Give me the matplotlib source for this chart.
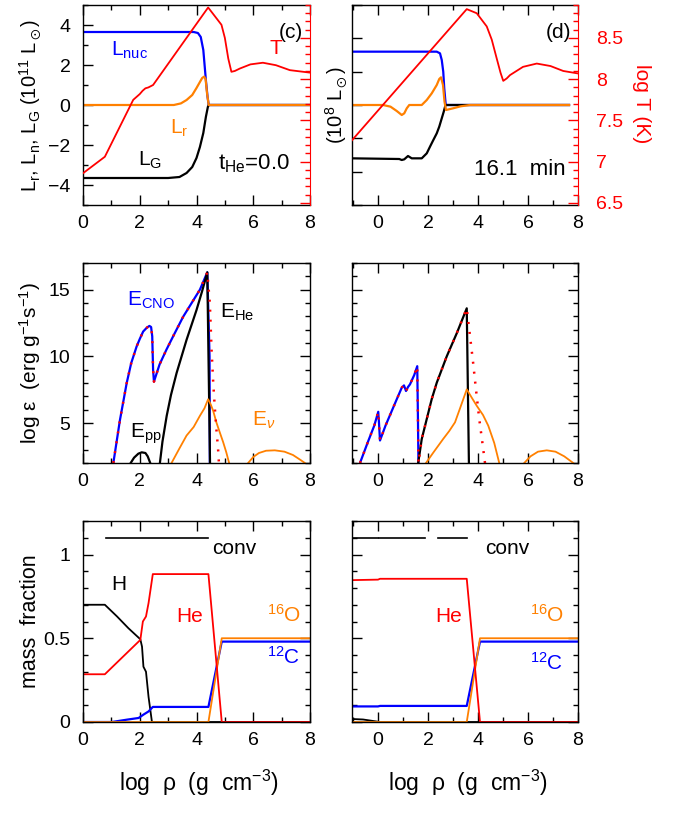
import matplotlib
matplotlib.use('Agg')
import matplotlib.pyplot as plt
from matplotlib.ticker import MultipleLocator, NullFormatter, FuncFormatter

plt.rcParams['font.family'] = ['Liberation Sans', 'DejaVu Sans']
plt.rcParams['mathtext.fontset'] = 'custom'
plt.rcParams['mathtext.rm'] = 'Liberation Sans'
plt.rcParams['mathtext.it'] = 'Liberation Sans:italic'
plt.rcParams['mathtext.bf'] = 'Liberation Sans:bold'
plt.rcParams['mathtext.fallback'] = 'stixsans'

BLUE = '#0000ff'; RED = '#ff0000'; ORANGE = '#ff8000'; BLACK = 'black'

# ---------------- data: panel (c) luminosities (10^11 Lsun) ----------------
c_nuc_x = [0, 3.9, 4.05, 4.15, 4.24, 4.33, 4.39, 4.43, 8]
c_nuc_y = [3.65, 3.65, 3.6, 3.4, 2.75, 1.25, 0.4, 0, 0]
c_G_x = [0, 3.0, 3.4, 3.65, 3.85, 4.0, 4.12, 4.24, 4.33, 4.4, 4.43, 8]
c_G_y = [-3.65, -3.65, -3.6, -3.4, -3.1, -2.65, -2.1, -1.4, -0.6, -0.1, 0, 0]
c_r_x = [0, 3.2, 3.45, 3.65, 3.85, 4.0, 4.12, 4.2, 4.27, 4.32, 4.37, 4.43, 8]
c_r_y = [0, 0, 0.08, 0.25, 0.5, 0.85, 1.15, 1.35, 1.42, 1.3, 0.6, 0, 0]
c_T_x = [0, 0.77, 1.77, 2.0, 2.1, 2.2, 2.3, 2.47, 4.41, 4.88, 5.0, 5.12, 5.23,
         5.35, 5.53, 5.9, 6.34, 6.8, 7.29, 8]
c_T_y = [6.86, 7.06, 7.75, 7.82, 7.86, 7.89, 7.9, 7.93, 8.87, 8.66, 8.5, 8.25, 8.09,
         8.1, 8.13, 8.18, 8.2, 8.17, 8.11, 8.08]

# ---------------- panel (d) luminosities (10^8 Lsun) ----------------
d_nuc_x = [-1.04, 2.35, 2.48, 2.55, 2.61, 2.65, 2.71, 7.64]
d_nuc_y = [1.6, 1.6, 1.55, 1.35, 1.0, 0.5, 0, 0]
d_G_x = [-1.04, 0.85, 0.95, 1.05, 1.2, 1.35, 1.75, 1.95, 2.08, 2.2, 2.35, 2.45,
         2.55, 2.63, 2.7, 7.64]
d_G_y = [-1.6, -1.62, -1.65, -1.63, -1.53, -1.6, -1.6, -1.45, -1.25, -1.07, -0.85,
         -0.65, -0.4, -0.2, 0, 0]
d_r_x = [-1.04, 0.2, 0.5, 0.75, 0.95, 1.05, 1.15, 1.25, 1.75, 1.95, 2.15, 2.35,
         2.45, 2.52, 2.6, 2.66, 2.72, 3.0, 3.3, 3.68, 7.64]
d_r_y = [0, 0, -0.05, -0.18, -0.3, -0.25, -0.1, 0, 0, 0.15, 0.35, 0.6,
         0.78, 0.83, 0.6, 0.1, -0.15, -0.1, -0.04, 0, 0]
d_T_x = [-1.04, 3.55, 3.95, 4.35, 4.55, 4.75, 4.9, 5.01, 5.15, 5.28, 5.8, 6.35,
         6.9, 7.41, 8]
d_T_y = [7.26, 8.85, 8.8, 8.64, 8.48, 8.25, 8.08, 7.98, 8.01, 8.05, 8.15, 8.19,
         8.16, 8.1, 8.07]

# ---------------- energy generation, left ----------------
e1_cno_x = [1.07, 1.3, 1.54, 1.7, 1.89, 2.0, 2.12, 2.25, 2.34, 2.4, 2.44, 2.47,
            2.5, 2.7, 2.94, 3.2, 3.53, 3.8, 4.12, 4.38, 4.46, 4.47]
e1_cno_y = [2, 5.2, 8.0, 9.5, 10.74, 11.3, 11.86, 12.15, 12.28, 12.2, 11.5, 9.0,
            8.1, 9.4, 10.5, 11.6, 12.97, 13.9, 15.0, 16.3, 10, 1.5]
e1_tot_x = [1.07, 1.3, 1.54, 1.7, 1.89, 2.0, 2.12, 2.25, 2.34, 2.4, 2.44, 2.47,
            2.5, 2.7, 2.94, 3.2, 3.53, 3.8, 4.12, 4.38, 4.47, 4.53, 4.59, 4.64,
            4.7, 4.76, 4.79]
e1_tot_y = [2, 5.2, 8.0, 9.5, 10.74, 11.3, 11.86, 12.15, 12.28, 12.2, 11.5, 9.0,
            8.1, 9.4, 10.5, 11.6, 12.97, 13.9, 15.0, 16.3, 14.0, 10.5, 8.0, 6.3,
            4.55, 3.07, 2.0]
e1_he_x = [2.71, 2.8, 2.95, 3.1, 3.3, 3.65, 4.0, 4.2, 4.38, 4.48]
e1_he_y = [2, 3.6, 5.54, 7.1, 8.76, 11.24, 13.47, 14.9, 16.3, 1.5]
e1_pp_x = [1.68, 1.8, 1.95, 2.07, 2.2, 2.28, 2.37]
e1_pp_y = [2, 2.4, 2.7, 2.8, 2.75, 2.5, 2]
e1_nu_x = [3.12, 3.4, 3.65, 3.9, 4.12, 4.28, 4.41, 4.5, 4.59, 4.7, 4.82, 4.94,
           5.05, 5.15, None, 5.82, 6.0, 6.2, 6.45, 6.76, 7.1, 7.4, 7.65, 7.82]
e1_nu_y = [2, 3.1, 4.06, 4.7, 5.54, 6.1, 6.78, 6.4, 5.9, 5.05, 4.3, 3.56,
           2.8, 2, None, 2, 2.45, 2.75, 2.92, 2.95, 2.85, 2.6, 2.25, 2]

# ---------------- energy generation, right ----------------
e2_cno_x = [-0.72, -0.4, -0.15, 0.01, 0.04, 0.08, 0.3, 0.55, 0.75, 0.95, 1.04,
            1.12, 1.2, 1.28, 1.45, 1.57, 1.6, 1.62]
e2_cno_y = [2, 3.6, 4.8, 5.84, 5.0, 3.69, 4.8, 5.9, 6.78, 7.65, 7.82,
            7.4, 7.7, 7.9, 8.6, 9.26, 5, 1.5]
e2_he_x = [1.6, 1.75, 1.95, 2.15, 2.35, 2.75, 3.15, 3.55, 3.64]
e2_he_y = [1.9, 3.8, 5.3, 6.8, 8.02, 10.0, 11.73, 13.6, 1.5]
e2_tot_x = e2_cno_x[:-1] + [1.62, 1.75, 1.95, 2.15, 2.35, 2.75, 3.15, 3.55,
                            3.62, 3.7, 3.8, 3.92, 4.05, 4.17, 4.28]
e2_tot_y = e2_cno_y[:-1] + [2.0, 3.8, 5.3, 6.8, 8.02, 10.0, 11.73, 13.6,
                            12.5, 11.2, 9.6, 7.5, 5.3, 3.6, 2.0]
e2_nu_x = [1.92, 2.2, 2.61, 2.85, 3.08, 3.3, 3.55, 3.75, 3.95, 4.2, 4.41, 4.65,
           4.85, None, 5.85, 6.1, 6.4, 6.75, 7.1, 7.45, 7.81]
e2_nu_y = [2, 2.75, 3.81, 4.4, 5.05, 6.2, 7.52, 6.9, 6.29, 5.6, 4.8, 3.5,
           2, None, 2, 2.5, 2.85, 2.95, 2.85, 2.5, 2]

# ---------------- composition, left ----------------
m1_H_x = [0, 0.77, 1.2, 1.6, 2.02, 2.08, 2.13, 2.22, 2.31, 2.43, 8]
m1_H_y = [0.7, 0.7, 0.63, 0.56, 0.494, 0.45, 0.33, 0.3, 0.15, 0, 0]
m1_He_x = [0, 0.77, 2.02, 2.11, 2.22, 2.31, 2.46, 4.42, 4.89, 8]
m1_He_y = [0.285, 0.285, 0.49, 0.6, 0.63, 0.71, 0.883, 0.883, 0, 0]
m1_C_x = [0, 1.02, 1.55, 1.96, 2.13, 2.31, 2.46, 4.42, 4.89, 8]
m1_C_y = [0, 0, 0.014, 0.024, 0.044, 0.063, 0.09, 0.09, 0.48, 0.48]
m1_O_x = [0, 4.42, 4.89, 8]
m1_O_y = [0, 0, 0.5, 0.5]
m1_conv = [(0.82, 4.42)]

# ---------------- composition, right ----------------
m2_H_x = [-1.04, -0.6, 0.08, 8]
m2_H_y = [0.018, 0.015, 0, 0]
m2_He_x = [-1.04, 0.0, 0.08, 3.55, 4.08, 8]
m2_He_y = [0.847, 0.85, 0.855, 0.855, 0, 0]
m2_C_x = [-1.04, 0.0, 0.08, 3.55, 4.08, 8]
m2_C_y = [0.093, 0.093, 0.096, 0.096, 0.48, 0.48]
m2_O_x = [-1.04, 3.55, 4.08, 8]
m2_O_y = [0, 0, 0.5, 0.5]
m2_conv = [(-1.04, 0.01), (0.05, 1.88), (2.39, 3.55)]

# ---------------- figure ----------------
W, H = 673, 815
fig = plt.figure(figsize=(W / 100, H / 100), dpi=100)


def add_ax(x0, x1, y0, y1):
    return fig.add_axes([x0 / W, 1 - y1 / H, (x1 - x0) / W, (y1 - y0) / H])


def fmt(v, pos):
    return f"{v:g}".replace('-', '\u2212')


TS = 14
AS = 15


def style(ax, xlim, ylim, ymaj, ymin, ylabels=True, right=True):
    ax.set_xlim(*xlim)
    ax.set_ylim(*ylim)
    ax.xaxis.set_major_locator(MultipleLocator(2))
    ax.xaxis.set_minor_locator(MultipleLocator(1))
    ax.yaxis.set_major_locator(MultipleLocator(ymaj))
    if ymin:
        ax.yaxis.set_minor_locator(MultipleLocator(ymin))
    ax.xaxis.set_major_formatter(FuncFormatter(fmt))
    ax.yaxis.set_major_formatter(FuncFormatter(fmt))
    ax.tick_params(which='both', direction='in', top=True, right=right, width=1)
    ax.tick_params(which='major', length=7)
    ax.tick_params(which='minor', length=3.5)
    ax.tick_params(axis='x', pad=7, labelsize=TS)
    ax.tick_params(axis='y', pad=9, labelsize=TS)
    if not ylabels:
        ax.yaxis.set_major_formatter(NullFormatter())
    for s in ax.spines.values():
        s.set_linewidth(1.0)


LX, RX = (83, 310), (352, 578)
ROW1, ROW2, ROW3 = (5, 205), (263, 463), (521, 722)
LW = 1.6

# ---- top-left (c)
ax = add_ax(*LX, *ROW1)
style(ax, (0, 8), (-5, 5), 2, 1, right=False)
ax.spines['right'].set_visible(False)
ax.plot(c_nuc_x, c_nuc_y, color=BLUE, lw=LW)
ax.plot(c_G_x, c_G_y, color=BLACK, lw=LW)
ax.plot(c_r_x, c_r_y, color=ORANGE, lw=LW)
ax.text(7.75, 3.65, '(c)', ha='right', va='center', fontsize=AS)
ax.text(6.8, 2.85, 'T', color=RED, ha='center', va='center', fontsize=AS)
ax.text(1.0, 2.45, r'L$_{\mathrm{nuc}}$', color=BLUE, fontsize=AS, va='baseline')
ax.text(3.06, -1.45, r'L$_{\mathrm{r}}$', color=ORANGE, fontsize=AS, va='baseline')
ax.text(1.94, -3.05, r'L$_{\mathrm{G}}$', color=BLACK, fontsize=AS, va='baseline')
ax.text(4.75, -3.2, r't$_{\mathrm{He}}$=0.0', color=BLACK, fontsize=AS + 1, va='baseline')
axT = ax.twinx()
axT.set_ylim(6.475, 8.9)
axT.plot(c_T_x, c_T_y, color=RED, lw=1.3)
axT.yaxis.set_major_locator(MultipleLocator(0.5))
axT.yaxis.set_minor_locator(MultipleLocator(0.1))
axT.yaxis.set_major_formatter(NullFormatter())
axT.tick_params(which='both', direction='in', colors=RED, width=1)
axT.tick_params(which='major', length=7)
axT.tick_params(which='minor', length=3.5)
axT.spines['right'].set_color(RED)
for s in ['left', 'top', 'bottom']:
    axT.spines[s].set_visible(False)

# ---- top-right (d)
ax = add_ax(*RX, *ROW1)
style(ax, (-1.04, 8), (-3, 3), 1, None, ylabels=False, right=False)
ax.spines['right'].set_visible(False)
ax.plot(d_nuc_x, d_nuc_y, color=BLUE, lw=LW)
ax.plot(d_G_x, d_G_y, color=BLACK, lw=LW)
ax.plot(d_r_x, d_r_y, color=ORANGE, lw=LW)
ax.text(7.72, 2.19, '(d)', ha='right', va='center', fontsize=AS)
ax.text(7.52, -2.1, '16.1  min', ha='right', va='baseline', fontsize=AS + 1)
axT = ax.twinx()
axT.set_ylim(6.475, 8.9)
axT.plot(d_T_x, d_T_y, color=RED, lw=1.3)
axT.yaxis.set_major_locator(MultipleLocator(0.5))
axT.yaxis.set_minor_locator(MultipleLocator(0.1))
axT.yaxis.set_major_formatter(FuncFormatter(fmt))
axT.tick_params(which='both', direction='in', colors=RED, width=1, labelsize=TS, pad=13)
axT.tick_params(which='major', length=7)
axT.tick_params(which='minor', length=3.5)
axT.spines['right'].set_color(RED)
for s in ['left', 'top', 'bottom']:
    axT.spines[s].set_visible(False)

# ---- middle-left
ax = add_ax(*LX, *ROW2)
style(ax, (0, 8), (2, 17), 5, 1)
ax.plot(e1_cno_x, e1_cno_y, color=BLUE, lw=LW)
ax.plot(e1_he_x, e1_he_y, color=BLACK, lw=LW)
ax.plot(e1_pp_x, e1_pp_y, color=BLACK, lw=LW)
ax.plot(e1_nu_x, e1_nu_y, color=ORANGE, lw=1.3)
ax.plot(e1_tot_x, e1_tot_y, color=RED, lw=1.8, ls=(0, (0.8, 3.2)))
ax.text(1.55, 13.8, r'E$_{\mathrm{CNO}}$', color=BLUE, fontsize=AS, va='baseline')
ax.text(4.82, 12.9, r'E$_{\mathrm{He}}$', color=BLACK, fontsize=AS, va='baseline')
ax.text(1.65, 3.9, r'E$_{\mathrm{pp}}$', color=BLACK, fontsize=AS, va='baseline')
ax.text(5.95, 4.8, r'E$_{\nu}$', color=ORANGE, fontsize=AS, va='baseline')

# ---- middle-right
ax = add_ax(*RX, *ROW2)
style(ax, (-1.04, 8), (2, 17), 5, 1, ylabels=False)
ax.plot(e2_cno_x, e2_cno_y, color=BLUE, lw=LW)
ax.plot(e2_he_x, e2_he_y, color=BLACK, lw=LW)
ax.plot(e2_nu_x, e2_nu_y, color=ORANGE, lw=1.3)
ax.plot(e2_tot_x, e2_tot_y, color=RED, lw=1.8, ls=(0, (0.8, 3.2)))

# ---- bottom-left
ax = add_ax(*LX, *ROW3)
style(ax, (0, 8), (0, 1.2), 0.5, 0.1)
ax.plot(m1_H_x, m1_H_y, color=BLACK, lw=1.3)
ax.plot(m1_C_x, m1_C_y, color=BLUE, lw=LW)
ax.plot(m1_O_x, m1_O_y, color=ORANGE, lw=1.3)
ax.plot(m1_He_x, m1_He_y, color=RED, lw=1.3)
for a, b in m1_conv:
    ax.plot([a, b], [1.1, 1.1], color=BLACK, lw=1.2)
ax.text(4.55, 1.0, 'conv', fontsize=AS, va='baseline')
ax.text(1.0, 0.79, 'H', fontsize=AS, va='baseline')
ax.text(3.3, 0.6, 'He', color=RED, fontsize=AS, va='baseline')
ax.text(6.5, 0.6, r'$^{16}$O', color=ORANGE, fontsize=AS, va='baseline')
ax.text(6.5, 0.35, r'$^{12}$C', color=BLUE, fontsize=AS, va='baseline')

# ---- bottom-right
ax = add_ax(*RX, *ROW3)
style(ax, (-1.04, 8), (0, 1.2), 0.5, 0.1, ylabels=False)
ax.plot(m2_H_x, m2_H_y, color=BLACK, lw=1.3)
ax.plot(m2_C_x, m2_C_y, color=BLUE, lw=LW)
ax.plot(m2_O_x, m2_O_y, color=ORANGE, lw=1.3)
ax.plot(m2_He_x, m2_He_y, color=RED, lw=1.3)
for a, b in m2_conv:
    ax.plot([a, b], [1.1, 1.1], color=BLACK, lw=1.2)
ax.text(4.3, 1.0, 'conv', fontsize=AS, va='baseline')
ax.text(2.3, 0.6, 'He', color=RED, fontsize=AS, va='baseline')
ax.text(6.08, 0.6, r'$^{16}$O', color=ORANGE, fontsize=AS, va='baseline')
ax.text(6.08, 0.31, r'$^{12}$C', color=BLUE, fontsize=AS, va='baseline')

# ---- axis labels
def ftext(px, py, s, **kw):
    fig.text(px / W, 1 - py / H, s, ha='center', va='center', **kw)

ftext(30, 105, r'L$_{\mathrm{r}}$, L$_{\mathrm{n}}$, L$_{\mathrm{G}}$ (10$^{11}$ L$_\odot$)',
      rotation=90, fontsize=14.5)
ftext(336, 105, r'(10$^{8}$ L$_\odot$)', rotation=90, fontsize=14.5)
ftext(641, 104, 'log T (K)', rotation=270, fontsize=15, color=RED)
ftext(30, 363, r'log ε  (erg g$^{-1}$s$^{-1}$)', rotation=90, fontsize=15)
ftext(30, 621, 'mass  fraction', rotation=90, fontsize=15.5)
ftext(199, 783, r'log  ρ  (g  cm$^{-3}$)', fontsize=16.5)
ftext(468, 783, r'log  ρ  (g  cm$^{-3}$)', fontsize=16.5)

fig.savefig('out.png', dpi=100)
